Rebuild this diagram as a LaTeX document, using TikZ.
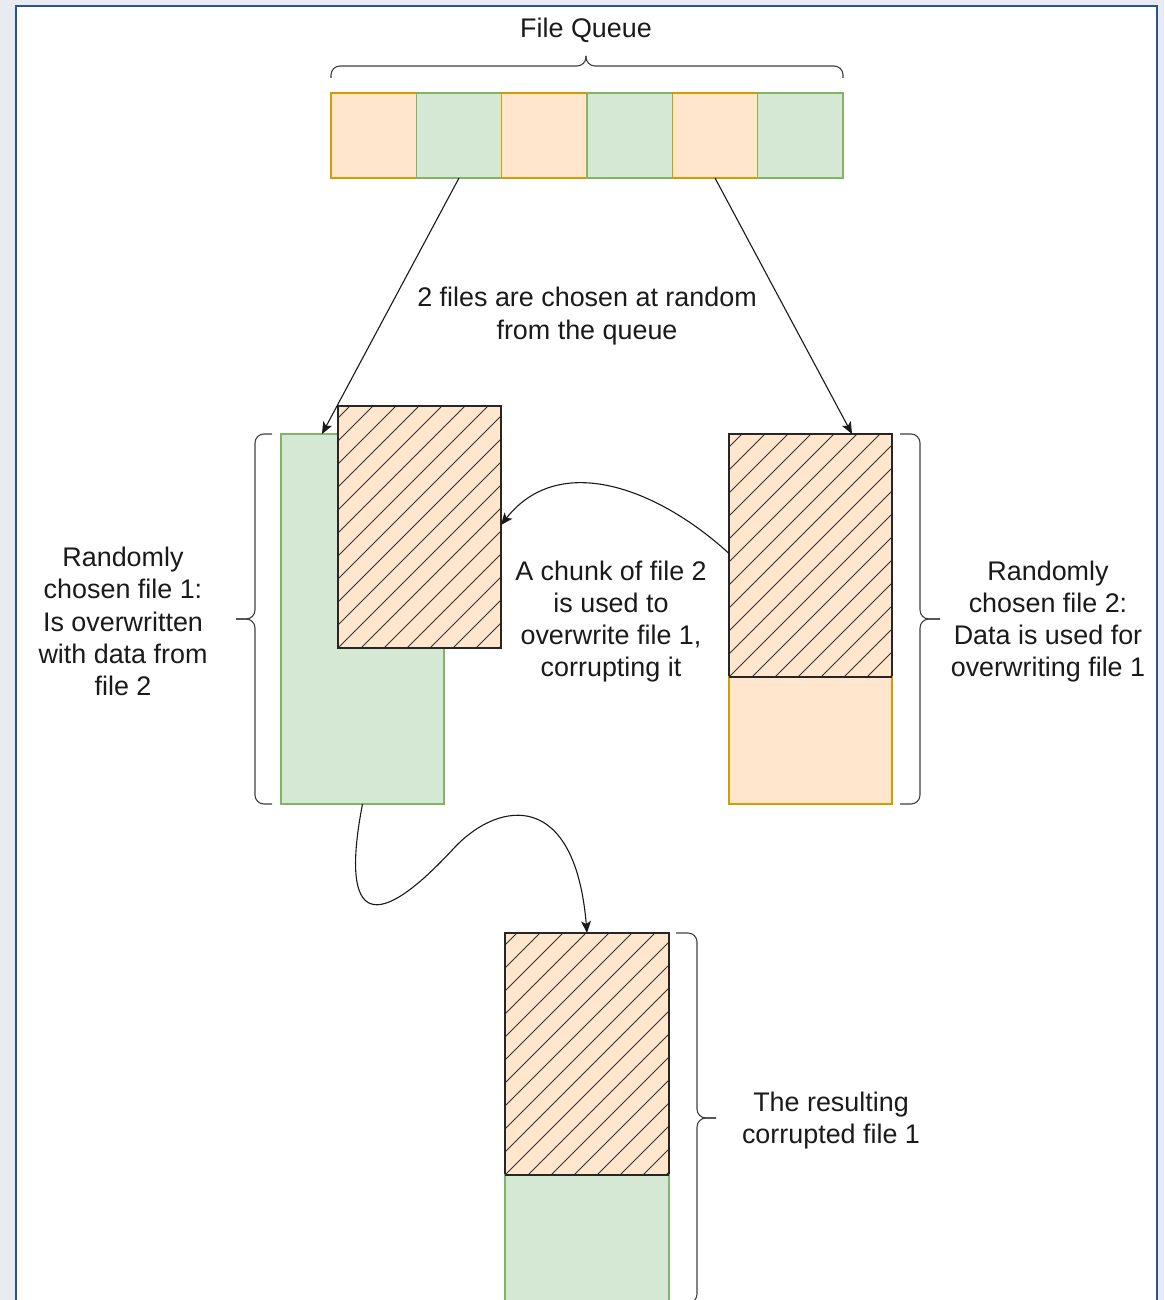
\documentclass[tikz,border=0pt]{standalone}
\usepackage{fontspec}
\setmainfont{Liberation Sans}
\usetikzlibrary{arrows.meta,calc}
\definecolor{orfill}{HTML}{FFE6CC}
\definecolor{ordraw}{HTML}{D79B00}
\definecolor{grfill}{HTML}{D5E8D4}
\definecolor{grdraw}{HTML}{82B366}
\definecolor{pagebg}{HTML}{E8ECF0}
\definecolor{framec}{HTML}{2C5386}
\definecolor{txt}{HTML}{1A1A1A}
\tikzset{
  cell/.style={rectangle, inner sep=0pt, outer sep=0pt, line width=1.2pt},
  orcell/.style={cell, fill=orfill, draw=ordraw},
  grcell/.style={cell, fill=grfill, draw=grdraw},
  hatchcell/.style={cell, fill=orfill},
  hatchline/.style={line width=0.9pt, draw=black!80},
  lbl/.style={font=\fontsize{26.9}{32.3}\selectfont, align=center, text=txt, inner sep=0pt},
  conn/.style={line width=1.1pt, draw=black!90, -{Stealth[length=12pt,width=10pt,inset=3pt]}},
  brace/.style={line width=1.1pt, draw=black!75, rounded corners=9pt},
}
\newcommand\myhatch[1]{%
  \begin{scope}
    \clip (#1.south west) rectangle (#1.north east);
    \foreach \k in {-12,...,9}{\draw[hatchline] ($(#1.south west)+(\k*23,0)$) -- ++(400,-400);}
  \end{scope}
  \draw[line width=1.2pt, draw=black!85] (#1.south west) rectangle (#1.north east);%
}
\begin{document}
\begin{tikzpicture}[x=1pt,y=-1pt]
\clip (0,0) rectangle (1164,1300);
\fill[pagebg] (0,0) rectangle (1164,1300);
\draw[framec, line width=2pt, fill=white] (16,6.5) rectangle (1157,1330);

% queue
\foreach \i/\s in {1/orcell,2/grcell,3/orcell,4/grcell,5/orcell,6/grcell}{
  \node[\s, minimum width=85.33pt, minimum height=85pt] (q\i) at ({331+85.33*(\i-0.5)},135.5) {};
}
\node[lbl] (tq) at (586,30.5) {File Queue};
\draw[brace] (331,78) -- (331,66) -- (586,66) -- (586,56);
\draw[brace] (586,56) -- (586,66) -- (843,66) -- (843,78);

% file 1
\node[grcell, minimum width=163pt, minimum height=370pt] (f1) at (362.5,619) {};
\node[hatchcell, minimum width=163pt, minimum height=242pt] (ch) at (419.5,527) {};
\myhatch{ch}

% file 2
\node[hatchcell, minimum width=163pt, minimum height=243pt] (f2h) at (810.5,555.5) {};
\myhatch{f2h}
\node[orcell, minimum width=163pt, minimum height=127pt] (f2r) at (810.5,740.5) {};
\draw[line width=1.2pt, draw=black!85] (f2h.south west) -- (f2h.south east);

% result
\node[hatchcell, minimum width=164pt, minimum height=242pt] (rh) at (587,1054) {};
\myhatch{rh}
\node[grcell, minimum width=164pt, minimum height=140pt] (rg) at (587,1245) {};
\draw[line width=1.2pt, draw=black!85] (rh.south west) -- (rh.south east);

% arrows from queue
\coordinate (a1) at ($(f1.north west)+(41,0)$);
\coordinate (a2) at ($(f2h.north west)+(123,0)$);
\draw[conn] (q2.south) -- (a1);
\draw[conn] (q5.south) -- (a2);
\node[lbl] (tchoose) at (587,316) {2 files are chosen at random\\from the queue};

% curved arrows
\draw[conn] ($(f2h.west)+(0,-2)$) .. controls (660,490) and (560,450) .. ($(ch.east)+(0,-2)$);
\draw[conn] (f1.south) .. controls (342,910) and (365,945) .. (455,847)
  .. controls (500,800) and (575,790) .. (rh.north);

% braces
\draw[brace] (272,434) -- (255,434) -- (255,619) -- (236,619);
\draw[brace] (236,619) -- (255,619) -- (255,804) -- (272,804);
\draw[brace] (900,434) -- (920,434) -- (920,619) -- (940,619);
\draw[brace] (940,619) -- (920,619) -- (920,804) -- (900,804);
\draw[brace] (676,933) -- (697,933) -- (697,1118) -- (716,1118);
\draw[brace] (716,1118) -- (697,1118) -- (697,1303) -- (676,1303);

% labels
\node[lbl] (tf1) at (123,621.5) {Randomly\\chosen file 1:\\Is overwritten\\with data from\\file 2};
\node[lbl] (tmid) at (611,621.5) {A chunk of file 2\\is used to\\overwrite file 1,\\corrupting it};
\node[lbl] (tf2) at (1048,621.5) {Randomly\\chosen file 2:\\Data is used for\\overwriting file 1};
\node[lbl] (tres) at (831,1120.5) {The resulting\\corrupted file 1};
\end{tikzpicture}
\end{document}
